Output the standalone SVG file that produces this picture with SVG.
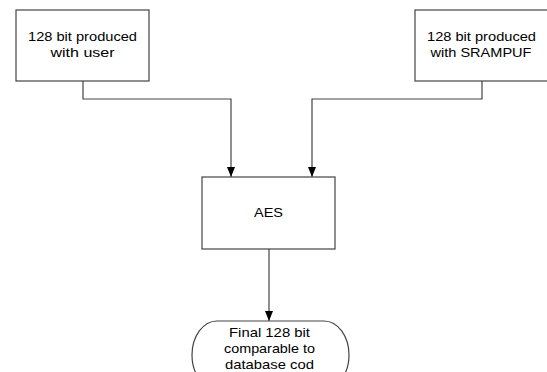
<svg xmlns="http://www.w3.org/2000/svg" width="547" height="372" viewBox="0 0 547 372">
<style>
.box{fill:#fff;stroke:#444;stroke-width:1.2}
.lbl{font-family:"Liberation Sans",Arial,sans-serif;font-size:13px;fill:#000;text-anchor:middle}
.con{fill:none;stroke:#444;stroke-width:1.2}
</style>
<defs>
<marker id="arrd" markerUnits="userSpaceOnUse" markerWidth="10" markerHeight="12" viewBox="0 0 10 12" refX="5" refY="11" orient="0">
<path d="M1,1 L9,1 L5,11 Z" fill="#000"/>
</marker>
</defs>
<rect width="547" height="372" fill="#fff"/>
<g id="connectors">
<path class="con" d="M83,81 V99 H231 V177" marker-end="url(#arrd)"/>
<path class="con" d="M482,81 V99 H312 V177" marker-end="url(#arrd)"/>
<path class="con" d="M269,249 V321" marker-end="url(#arrd)"/>
</g>
<g id="user">
<rect class="box" x="16" y="10" width="133" height="71"/>
<text class="lbl" x="82.5" y="41" textLength="109" lengthAdjust="spacingAndGlyphs">128 bit produced</text>
<text class="lbl" x="82.5" y="56.5" textLength="64" lengthAdjust="spacingAndGlyphs">with user</text>
</g>
<g id="srampuf">
<rect class="box" x="415" y="10" width="134" height="71"/>
<text class="lbl" x="481.5" y="41" textLength="109" lengthAdjust="spacingAndGlyphs">128 bit produced</text>
<text class="lbl" x="481" y="56.5" textLength="101" lengthAdjust="spacingAndGlyphs">with SRAMPUF</text>
</g>
<g id="aes">
<rect class="box" x="202" y="177" width="133" height="72"/>
<text class="lbl" x="268.5" y="217" textLength="29" lengthAdjust="spacingAndGlyphs">AES</text>
</g>
<g id="final">
<rect class="box" x="192" y="321" width="157" height="68" rx="25" ry="34"/>
<text class="lbl" x="269.5" y="337" textLength="81" lengthAdjust="spacingAndGlyphs">Final 128 bit</text>
<text class="lbl" x="269.5" y="353" textLength="91" lengthAdjust="spacingAndGlyphs">comparable to</text>
<text class="lbl" x="269.5" y="369" textLength="89" lengthAdjust="spacingAndGlyphs">database cod</text>
</g>
</svg>
